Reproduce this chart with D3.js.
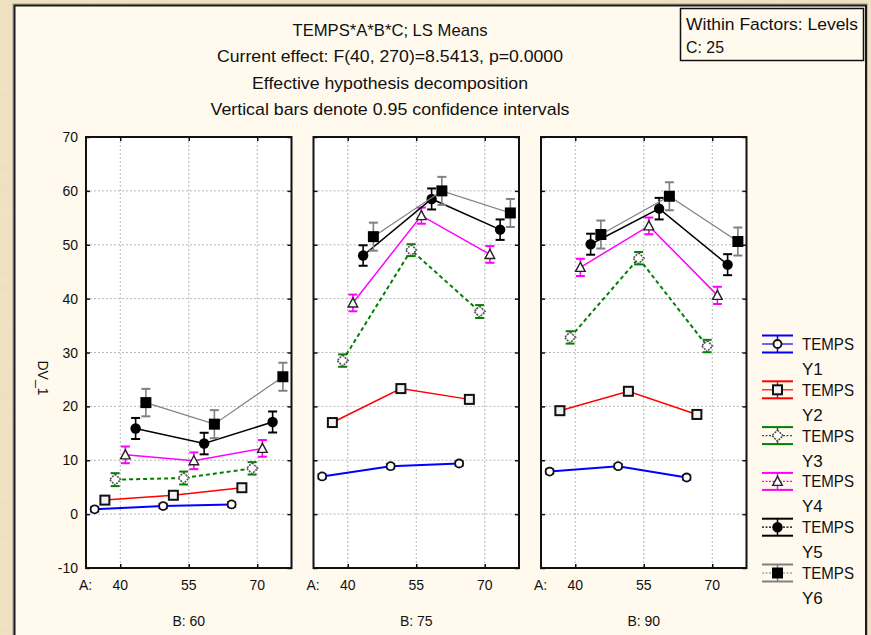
<!DOCTYPE html>
<html><head><meta charset="utf-8">
<script src="https://cdn.jsdelivr.net/npm/d3@7"></script>
<style>
html,body{margin:0;padding:0;background:#efe2c3;}
svg{display:block;}
text{font-family:"Liberation Sans",Arial,sans-serif;fill:#111;}
</style></head>
<body>
<svg id="chart" width="871" height="635"></svg>
<script>
// ---------- DATA ----------
const categoriesA = ["40", "55", "70"];
const panelsB = ["60", "75", "90"];
const seriesNames = ["Y1", "Y2", "Y3", "Y4", "Y5", "Y6"];
const yTicks = [-10, 0, 10, 20, 30, 40, 50, 60, 70];
const titleLines = [
  "TEMPS*A*B*C; LS Means",
  "Current effect: F(40, 270)=8.5413, p=0.0000",
  "Effective hypothesis decomposition",
  "Vertical bars denote 0.95 confidence intervals"
];
// means per panel (B: 60, 75, 90), each over A: 40, 55, 70
const meansY1 = [[0.9, 1.5, 1.8], [7.0, 8.9, 9.4], [7.9, 8.9, 6.8]];
const meansY2 = [[2.6, 3.5, 4.9], [17.0, 23.3, 21.3], [19.2, 22.8, 18.5]];
const meansY3 = [[6.4, 6.7, 8.5], [28.5, 49.0, 37.6], [32.8, 47.5, 31.2]];
const meansY4 = [[11.0, 9.9, 12.2], [39.2, 55.4, 48.2], [45.8, 53.5, 40.6]];
const meansY5 = [[15.9, 13.1, 17.1], [48.0, 58.5, 52.8], [50.1, 56.7, 46.3]];
const meansY6 = [[20.7, 16.7, 25.5], [51.5, 60.0, 55.9], [51.9, 59.0, 50.6]];
// half-width of the 0.95 confidence intervals
const ciY1 = [[0.4, 0.4, 0.4], [0.4, 0.4, 0.4], [0.4, 0.4, 0.4]];
const ciY2 = [[0.7, 0.7, 0.7], [0.7, 0.7, 0.7], [0.7, 0.7, 0.7]];
const ciY3 = [[1.2, 1.2, 1.15], [1.15, 1.1, 1.2], [1.15, 1.15, 1.15]];
const ciY4 = [[1.55, 1.55, 1.55], [1.55, 1.5, 1.55], [1.6, 1.55, 1.6]];
const ciY5 = [[1.95, 2.0, 1.95], [1.9, 1.95, 1.9], [1.95, 2.0, 1.95]];
const ciY6 = [[2.55, 2.6, 2.6], [2.6, 2.6, 2.6], [2.6, 2.6, 2.6]];

const allMeans = [meansY1, meansY2, meansY3, meansY4, meansY5, meansY6];
const allCI = [ciY1, ciY2, ciY3, ciY4, ciY5, ciY6];

// ---------- STYLES ----------
const titleWidths = [195, 346, 276, 359];
const styles = [
  {color: "#0000ff", width: 2, dash: null, cap: "#0000ff", marker: "circleOpen"},
  {color: "#ff0000", width: 1.5, dash: null, cap: "#ff0000", marker: "squareOpen"},
  {color: "#008000", width: 2, dash: "4,3", cap: "#008000", marker: "diamondOpen"},
  {color: "#ff00ff", width: 1.5, dash: null, cap: "#ff00ff", marker: "triangleOpen"},
  {color: "#000000", width: 1.5, dash: null, cap: "#000000", marker: "circleFilled"},
  {color: "#808080", width: 1.2, dash: null, cap: "#808080", marker: "squareFilled"}
];

const svg = d3.select("#chart");

// textured background
const defs = svg.append("defs");
const f = defs.append("filter").attr("id", "tex").attr("x", 0).attr("y", 0).attr("width", 1).attr("height", 1);
f.append("feTurbulence").attr("type", "fractalNoise").attr("baseFrequency", "0.02 0.12").attr("numOctaves", 3).attr("seed", 4).attr("result", "n");
f.append("feColorMatrix").attr("in", "n").attr("type", "matrix")
  .attr("values", "0 0 0 0 0.80  0 0 0 0 0.70  0 0 0 0 0.50  0 0 0 -1.2 0.9");
svg.append("rect").attr("width", 871).attr("height", 635).attr("fill", "#f0e2c2");
svg.append("rect").attr("width", 871).attr("height", 635).attr("filter", "url(#tex)").attr("opacity", 0.5);

// main frame
svg.append("rect").attr("x", 13).attr("y", 4).attr("width", 854).attr("height", 650)
  .attr("fill", "none").attr("stroke", "#999").attr("stroke-width", 1);
svg.append("rect").attr("x", 14.5).attr("y", 5.5).attr("width", 851.5).attr("height", 650)
  .attr("fill", "#fffaed").attr("stroke", "#1a1a1a").attr("stroke-width", 2);

// titles
svg.selectAll("text.title").data(titleLines).enter().append("text")
  .attr("class", "title")
  .attr("x", 390).attr("y", (d, i) => 36 + i * 26.3)
  .attr("text-anchor", "middle").style("font-size", "17px")
  .attr("textLength", (d, i) => titleWidths[i]).attr("lengthAdjust", "spacingAndGlyphs")
  .text(d => d);

// within factors box
svg.append("rect").attr("x", 680.5).attr("y", 8.5).attr("width", 183).attr("height", 52)
  .attr("fill", "#fffaed").attr("stroke", "#111").attr("stroke-width", 1.5);
svg.append("text").attr("x", 686).attr("y", 30).style("font-size", "17px")
  .attr("textLength", 172).attr("lengthAdjust", "spacingAndGlyphs").text("Within Factors: Levels");
svg.append("text").attr("x", 686).attr("y", 53).style("font-size", "17px")
  .attr("textLength", 38).attr("lengthAdjust", "spacingAndGlyphs").text("C: 25");

// ---------- SCALES ----------
const y = d3.scaleLinear().domain([-10, 70]).range([568, 137]);
const panelX = d3.scaleBand().domain(panelsB).range([86, 86 + 3 * 205.5 + 2 * 22]).paddingInner(22 / 227.5);
const slot = d3.scaleBand().domain(seriesNames).range([-30.75, 30.75]);

function markerPath(sel, type) {
  if (type === "circleOpen") {
    sel.append("circle").attr("r", 4).attr("fill", "#fff").attr("stroke", "#111").attr("stroke-width", 1.8);
  } else if (type === "squareOpen") {
    sel.append("rect").attr("x", -4.5).attr("y", -4.5).attr("width", 9).attr("height", 9)
      .attr("fill", "#f2f2f2").attr("stroke", "#111").attr("stroke-width", 2);
  } else if (type === "diamondOpen") {
    sel.append("path").attr("d", "M0,-5.5L5.5,0L0,5.5L-5.5,0Z").attr("fill", "#fff")
      .attr("stroke", "#555").attr("stroke-width", 1.6).attr("stroke-dasharray", "2,1");
  } else if (type === "triangleOpen") {
    sel.append("path").attr("d", "M0,-5L4.8,4L-4.8,4Z").attr("fill", "#fff")
      .attr("stroke", "#222").attr("stroke-width", 1.4);
  } else if (type === "circleFilled") {
    sel.append("circle").attr("r", 5.2).attr("fill", "#000");
  } else if (type === "squareFilled") {
    sel.append("rect").attr("x", -5.5).attr("y", -5.5).attr("width", 11).attr("height", 11).attr("fill", "#000");
  }
}

// ---------- PANELS ----------
panelsB.forEach((b, pi) => {
  const left = panelX(b);
  const w = panelX.bandwidth();
  const x = d3.scalePoint().domain(categoriesA).range([left, left + w]).padding(0.5);
  const g = svg.append("g");

  g.append("rect").attr("x", left).attr("y", y(70)).attr("width", w).attr("height", y(-10) - y(70)).attr("fill", "#fff");

  // grid
  g.selectAll("line.hg").data(yTicks.slice(1, -1)).enter().append("line")
    .attr("x1", left).attr("x2", left + w).attr("y1", d => y(d)).attr("y2", d => y(d))
    .attr("stroke", "#b8b8b8").attr("stroke-width", 1).attr("stroke-dasharray", "2,2");
  g.selectAll("line.vg").data(categoriesA).enter().append("line")
    .attr("x1", d => x(d)).attr("x2", d => x(d)).attr("y1", y(70)).attr("y2", y(-10))
    .attr("stroke", "#b8b8b8").attr("stroke-width", 1).attr("stroke-dasharray", "2,2");

  // axes with inward ticks
  const axL = d3.axisRight(y).tickValues(yTicks).tickSize(4).tickFormat("");
  const axR = d3.axisLeft(y).tickValues(yTicks).tickSize(4).tickFormat("");
  const axT = d3.axisBottom(x).tickSize(4).tickFormat("");
  const axB = d3.axisTop(x).tickSize(4).tickFormat("");
  [[axL, `translate(${left},0)`], [axR, `translate(${left + w},0)`],
   [axT, `translate(0,${y(70)})`], [axB, `translate(0,${y(-10)})`]].forEach(([ax, tr]) => {
    const a = g.append("g").attr("transform", tr).call(ax);
    a.select(".domain").remove();
    a.selectAll("line").attr("stroke", "#111").attr("stroke-width", 1.5);
  });
  g.append("rect").attr("x", left).attr("y", y(70)).attr("width", w).attr("height", y(-10) - y(70))
    .attr("fill", "none").attr("stroke", "#111").attr("stroke-width", 2);

  // x labels
  g.selectAll("text.xt").data(categoriesA).enter().append("text")
    .attr("x", d => x(d)).attr("y", 590).attr("text-anchor", "middle").style("font-size", "14px").text(d => d);
  g.append("text").attr("x", left - 7).attr("y", 590).style("font-size", "14px").text("A:");
  g.append("text").attr("x", left + w / 2).attr("y", 626).attr("text-anchor", "middle")
    .style("font-size", "14px").text("B:  " + b);

  if (pi === 0) {
    g.selectAll("text.yt").data(yTicks).enter().append("text")
      .attr("x", 78).attr("y", d => y(d) + 5).attr("text-anchor", "end").style("font-size", "14px").text(d => d);
  }

  // series
  seriesNames.forEach((s, si) => {
    const st = styles[si];
    const pts = categoriesA.map((a, ai) => ({
      px: x(a) + slot(s) + slot.bandwidth() / 2,
      m: allMeans[si][pi][ai], c: allCI[si][pi][ai]
    }));
    const line = d3.line().x(d => d.px).y(d => y(d.m));
    g.append("path").attr("d", line(pts)).attr("fill", "none").attr("stroke", st.color)
      .attr("stroke-width", st.width).attr("stroke-dasharray", st.dash);
    const eb = g.selectAll(null).data(pts).enter().append("g");
    eb.append("line").attr("x1", d => d.px).attr("x2", d => d.px)
      .attr("y1", d => y(d.m + d.c)).attr("y2", d => y(d.m - d.c))
      .attr("stroke", st.cap).attr("stroke-width", 1.6);
    [1, -1].forEach(sg => {
      eb.append("line").attr("x1", d => d.px - 4.5).attr("x2", d => d.px + 4.5)
        .attr("y1", d => y(d.m + sg * d.c)).attr("y2", d => y(d.m + sg * d.c))
        .attr("stroke", st.cap).attr("stroke-width", 2);
    });
    pts.forEach(d => {
      const mg = g.append("g").attr("transform", `translate(${d.px},${y(d.m)})`);
      markerPath(mg, st.marker);
    });
  });
});

// y axis title
svg.append("text").attr("transform", "translate(38,378) rotate(90)").attr("text-anchor", "middle")
  .style("font-size", "14px").text("DV_1");

// ---------- LEGEND ----------
const legY = d3.scalePoint().domain(seriesNames).range([344, 573]);
seriesNames.forEach((s, si) => {
  const st = styles[si];
  const cy = legY(s);
  const lg = svg.append("g").attr("transform", `translate(777.5,${cy})`);
  lg.append("line").attr("x1", -15.5).attr("x2", 15.5).attr("y1", -8.5).attr("y2", -8.5).attr("stroke", st.cap).attr("stroke-width", 2);
  lg.append("line").attr("x1", -15.5).attr("x2", 15.5).attr("y1", 8.5).attr("y2", 8.5).attr("stroke", st.cap).attr("stroke-width", 2);
  lg.append("line").attr("x1", 0).attr("x2", 0).attr("y1", -8.5).attr("y2", 8.5).attr("stroke", st.cap).attr("stroke-width", 1.5);
  lg.append("line").attr("x1", -15.5).attr("x2", 15.5).attr("y1", 0).attr("y2", 0).attr("stroke", st.color)
    .attr("stroke-width", 1.2).attr("stroke-dasharray", si >= 2 ? "2,1.5" : null);
  markerPath(lg, st.marker);
  svg.append("text").attr("x", 802).attr("y", cy + 6).style("font-size", "17px")
    .attr("textLength", 52).attr("lengthAdjust", "spacingAndGlyphs").text("TEMPS");
  svg.append("text").attr("x", 802).attr("y", cy + 31).style("font-size", "17px").text(s);
});
</script>
</body></html>
